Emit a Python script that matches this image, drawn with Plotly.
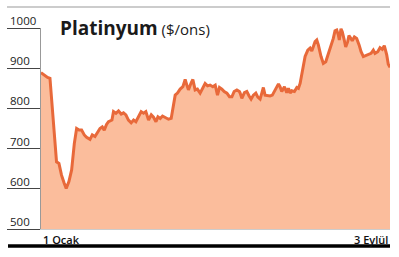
import plotly.graph_objects as go

# Day offset from 1 Ocak (0) to 3 Eylül (245) and platinum price ($/ons)
days = [0, 2.3, 4.6, 6.3, 7.0, 7.9, 9.3, 10.9, 12.6, 14.4, 16.3, 17.7, 19.6, 21.5, 23.4, 25.0,
        26.7, 28.5, 30.4, 32.0, 34.4, 36.0, 37.9, 39.7, 41.4, 43.0, 44.4, 46.0, 47.4, 49.8,
        50.9, 52.6, 54.4, 56.3, 57.9, 59.6, 61.4, 63.3, 65.0, 66.6, 68.5, 70.3, 72.0, 73.6,
        75.5, 77.4, 79.0, 80.7, 82.1, 83.7, 85.3, 87.2, 89.5, 91.4, 93.0, 94.2, 95.8, 97.7,
        99.6, 101.2, 102.4, 103.5, 105.2, 106.6, 108.2, 109.8, 111.7, 113.6, 115.2, 116.9,
        118.7, 120.6, 122.3, 123.9, 125.3, 127.0, 128.6, 130.5, 132.3, 134.0, 135.6, 137.5,
        139.3, 139.8, 141.0, 142.8, 144.5, 146.1, 147.5, 149.1, 150.8, 152.2, 153.8, 155.0,
        156.1, 157.3, 159.2, 160.8, 162.4, 163.9, 165.5, 166.7, 167.8, 169.0, 170.9, 172.5,
        173.7, 174.9, 176.0, 177.9, 179.6, 180.7, 181.9, 183.1, 184.2, 185.4, 187.3, 188.9,
        190.1, 191.2, 192.4, 193.6, 194.7, 196.6, 198.2, 199.9, 201.7, 203.6, 205.2, 206.4,
        207.6, 208.7, 209.4, 210.6, 211.5, 212.9, 213.9, 215.3, 216.2, 217.6, 218.5, 220.0,
        221.6, 223.3, 224.7, 226.3, 228.0, 229.8, 231.7, 233.3, 234.5, 236.4, 238.0, 239.6,
        241.0, 242.7, 243.8, 245.0]
price = [889, 883, 877, 875, 842, 796, 754, 667, 663, 634, 614, 601, 618, 647, 713, 750,
         746, 746, 734, 728, 723, 734, 730, 742, 750, 754, 746, 760, 767, 771,
         792, 788, 794, 786, 789, 784, 771, 764, 771, 767, 779, 792, 788, 792,
         771, 784, 778, 767, 779, 775, 781, 778, 773, 775, 813, 833, 838, 848,
         854, 872, 858, 846, 862, 872, 846, 848, 838, 850, 862, 856,
         858, 854, 858, 833, 852, 848, 842, 838, 829, 829, 842, 846,
         842, 838, 825, 839, 842, 831, 823, 833, 838, 828, 823, 838,
         852, 833, 831, 831, 833, 844, 856, 861, 854, 842, 854, 839,
         850, 838, 844, 842, 852, 850, 862, 883, 908, 929, 945, 950,
         943, 953, 966, 970, 958, 929, 912, 916, 937, 953, 974, 993,
         995, 983, 970, 998, 991, 970, 953, 966, 981, 974, 968, 978,
         974, 958, 941, 929, 931, 933, 937, 945, 937, 941, 951, 947,
         956, 933, 910, 902]

y_ticks = [500, 600, 700, 800, 900, 1000]
x_labels = [(0, "1 Ocak"), (245, "3 Eylül")]
title_main = "Platinyum"
title_unit = " ($/ons)"

W, H = 399, 257
L, R, T, B = 41, 9, 28, 28
plot_w = W - L - R

fig = go.Figure()
fig.add_trace(go.Scatter(
    x=days, y=price, mode="lines",
    line=dict(color="#E8693A", width=3),
    fill="tozeroy", fillcolor="#FBBD9C",
    hoverinfo="skip", showlegend=False,
))

annots = []
for v in y_ticks:
    annots.append(dict(
        x=(8 - L) / plot_w, xref="paper", y=v, yref="y",
        text=str(v), showarrow=False, xanchor="left", yanchor="bottom",
        yshift=-2, font=dict(family="Open Sans", size=11.5, color="#222"),
    ))
for xv, txt in x_labels:
    annots.append(dict(
        x=xv, xref="x", y=-0.005, yref="paper", text=txt, showarrow=False,
        xanchor="left" if xv == 0 else "right", yanchor="top",
        font=dict(family="Open Sans", size=11, color="#111", weight=600),
    ))
annots.append(dict(
    x=(58 - L) / plot_w, xref="paper", y=1.0, yref="paper",
    text=f"<b>{title_main}</b><span style='font-size:15px'>{title_unit}</span>",
    showarrow=False, xanchor="left", yanchor="middle", yshift=0,
    font=dict(family="Open Sans", size=19, color="#1a1a1a"),
))

shapes = [
    dict(type="line", xref="paper", yref="paper",
         x0=(7 - L) / plot_w, x1=(390 - L) / plot_w,
         y0=1 + (T - 7) / (H - T - B), y1=1 + (T - 7) / (H - T - B),
         line=dict(color="#BBBBBB", width=1.5)),
    dict(type="line", xref="paper", yref="paper",
         x0=(8 - L) / plot_w, x1=(390 - L) / plot_w,
         y0=-(246 - (H - B)) / (H - T - B), y1=-(246 - (H - B)) / (H - T - B),
         line=dict(color="#000000", width=3.5)),
]

fig.update_layout(
    width=W, height=H,
    margin=dict(l=L, r=R, t=T, b=B, pad=0),
    paper_bgcolor="white", plot_bgcolor="white",
    annotations=annots, shapes=shapes,
    xaxis=dict(range=[0, 245], showgrid=False, zeroline=False, showticklabels=False,
               ticks="", showline=True, linecolor="#CCCCCC", linewidth=1),
    yaxis=dict(range=[500, 1000], tickvals=y_ticks, showticklabels=False,
               ticks="outside", ticklen=33, tickcolor="#444", tickwidth=1,
               showgrid=False, zeroline=False, showline=True, linecolor="#999999",
               linewidth=1),
)

fig.write_html("out.html")
